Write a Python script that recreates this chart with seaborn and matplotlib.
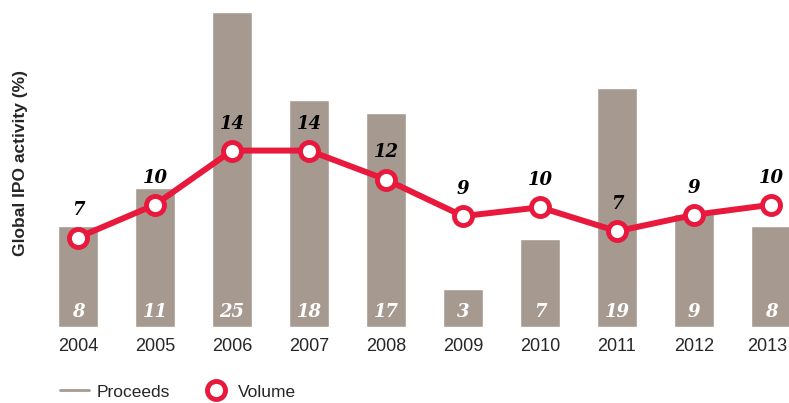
import matplotlib
matplotlib.use("Agg")
import matplotlib.pyplot as plt
import matplotlib.transforms as mtransforms
import seaborn as sns
import pandas as pd
from matplotlib.lines import Line2D

# data
years = ["2004", "2005", "2006", "2007", "2008", "2009", "2010", "2011", "2012", "2013"]
proceeds = [8, 11, 25, 18, 17, 3, 7, 19, 9, 8]
volume = [7.1, 9.7, 14.0, 14.0, 11.7, 8.8, 9.5, 7.6, 8.9, 9.7]
volume_labels = ["7", "10", "14", "14", "12", "9", "10", "7", "9", "10"]

bar_color = "#a69a90"
red = "#e8193c"

sns.set_theme(style="white")
plt.rcParams["font.family"] = ["Liberation Sans", "DejaVu Sans"]

df = pd.DataFrame({"year": years, "proceeds": proceeds, "volume": volume})

fig = plt.figure(figsize=(7.89, 4.03), dpi=100)
ax = fig.add_axes([39.5 / 789, 76 / 403, 749.5 / 789, 327 / 403])

sns.barplot(data=df, x="year", y="proceeds", color=bar_color, width=0.52,
            saturation=1, ax=ax)
ax.plot(range(len(years)), df["volume"], color=red, lw=4.3, marker="o",
        ms=13, mfc="white", mec=red, mew=3.5, zorder=5)

serif = dict(family=["DejaVu Serif"], weight="bold", style="italic")
for i, (p, v, lab) in enumerate(zip(proceeds, volume, volume_labels)):
    ax.annotate(str(p), (i, 0), xytext=(0, 11), textcoords="offset points",
                ha="center", va="center", color="white", fontsize=13, **serif)
    ax.annotate(lab, (i, v), xytext=(0, 19.5), textcoords="offset points",
                ha="center", va="center", color="black", fontsize=13, **serif)

ax.set_xlim(-0.5, 9.234)
ax.set_ylim(0, 25.95)
ax.set_yticks([])
ax.set_xlabel("")
ax.set_ylabel("Global IPO activity (%)", fontsize=12.5, fontweight="bold", labelpad=8)
ax.tick_params(axis="x", length=0, labelsize=13, pad=8)
for s in ax.spines.values():
    s.set_visible(False)

# nudge the last year label so it stays inside the figure
last = ax.get_xticklabels()[-1]
last.set_transform(last.get_transform()
                   + mtransforms.ScaledTranslation(-3 / 72, 0, fig.dpi_scale_trans))

handles = [
    Line2D([], [], color=bar_color, lw=2),
    Line2D([], [], color=red, lw=0, marker="o", ms=13, mfc="white", mec=red, mew=3.5),
]
fig.legend(handles, ["Proceeds", "Volume"], loc="center left",
           bbox_to_anchor=(60 / 789, 1 - 392 / 403), ncol=2, frameon=False,
           fontsize=12.5, handlelength=1.67, handletextpad=0.46, columnspacing=1.78,
           borderpad=0, borderaxespad=0)

fig.savefig("out.png", dpi=100)
